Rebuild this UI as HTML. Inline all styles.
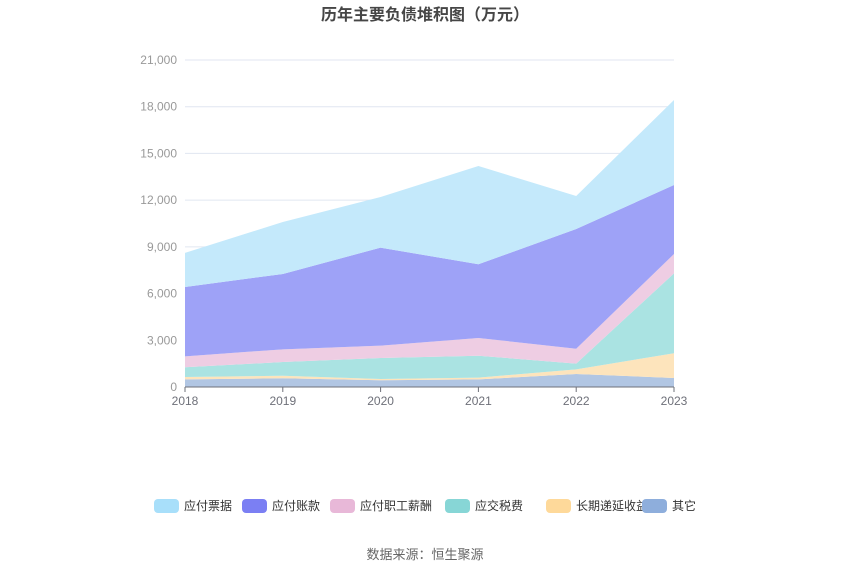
<!DOCTYPE html>
<html><head><meta charset="utf-8">
<style>
body{margin:0;background:#fff;font-family:"Liberation Sans","Noto Sans CJK SC",sans-serif;}
svg text{font-family:"Liberation Sans","Noto Sans CJK SC",sans-serif;}
</style></head>
<body>
<svg id="chart" width="850" height="575" xmlns="http://www.w3.org/2000/svg">
<text x="425" y="20" text-anchor="middle" font-size="16" font-weight="bold" fill="#464646">历年主要负债堆积图（万元）</text>
<g id="grid"></g><g id="areas"></g><g id="axes"></g><g id="legend"></g>
<text x="425" y="559" text-anchor="middle" font-size="13" fill="#666">数据来源：恒生聚源</text>
</svg>
<script>
const years=["2018","2019","2020","2021","2022","2023"];
const seriesNames=["其它","长期递延收益","应交税费","应付职工薪酬","应付账款","应付票据"];
const other=[490,560,430,490,835,580];
const deferred=[150,165,80,110,300,1585];
const tax=[625,880,1350,1410,365,5135];
const salary=[705,815,795,1140,960,1240];
const payables=[4450,4840,6295,4730,7690,4430];
const notes=[2190,3340,3250,6310,2120,5460];
const yTicks=[0,3000,6000,9000,12000,15000,18000,21000];
const series=[other,deferred,tax,salary,payables,notes];
const fills=["#b1c6e3","#fde4bc","#aae3e2","#eecde3","#9ea2f7","#c4e9fb"];
const legendCols=["#8eaedc","#fed99a","#87d6d6","#e8b8d8","#7b7ff3","#a8dffa"];
const slugs=["other","deferred-income","taxes-payable","salaries-payable","accounts-payable","notes-payable"];
const NS="http://www.w3.org/2000/svg";
const x0=185,x1=674,y0=387,y1=60,ymax=21000;
const X=i=>x0+(x1-x0)*i/(years.length-1);
const Y=v=>y0-(y0-y1)*v/ymax;
function mk(t,a,p){const e=document.createElementNS(NS,t);for(const k in a)e.setAttribute(k,a[k]);p.appendChild(e);return e;}
const grid=document.getElementById('grid'),axes=document.getElementById('axes'),areas=document.getElementById('areas'),legend=document.getElementById('legend');
yTicks.forEach(v=>{
 const l=mk('line',{x1:x0,x2:x1,y1:Y(v),y2:Y(v),stroke:'#e0e6f1'},grid);
 
 
 const t=mk('text',{x:x0-8,y:Y(v)+4,'text-anchor':'end','font-size':12,fill:'#999'},axes);
 t.textContent=v.toLocaleString('en-US');
 
 
});
let base=years.map(()=>0);
series.forEach((s,si)=>{
 const top=base.map((b,i)=>b+s[i]);
 let d='M'+years.map((_,i)=>X(i)+','+Y(top[i])).join('L');
 for(let i=years.length-1;i>=0;i--)d+='L'+X(i)+','+Y(base[i]);
 const p=mk('path',{d:d+'Z',fill:fills[si]},areas);
 
 
 base=top;
});
const ax=mk('line',{x1:x0,x2:x1,y1:y0,y2:y0,stroke:'#6e7079'},axes);


years.forEach((y,i)=>{
 const tk=mk('line',{x1:X(i),x2:X(i),y1:y0,y2:y0+5,stroke:'#6e7079'},axes);
 
 
 const t=mk('text',{x:X(i),y:y0+18,'text-anchor':'middle','font-size':12,fill:'#6e7079'},axes);
 t.textContent=y;
 
 
});
const legX=[154,242,330,445,546,642];
for(let k=0;k<6;k++){
 const si=5-k;
 const g=mk('g',{},legend);
 
 
 mk('rect',{x:legX[k],y:499,width:25,height:14,rx:4,fill:legendCols[si]},g);
 const t=mk('text',{x:legX[k]+30,y:510,'font-size':12,fill:'#333'},g);
 t.textContent=seriesNames[si];
}
</script>
</body></html>
